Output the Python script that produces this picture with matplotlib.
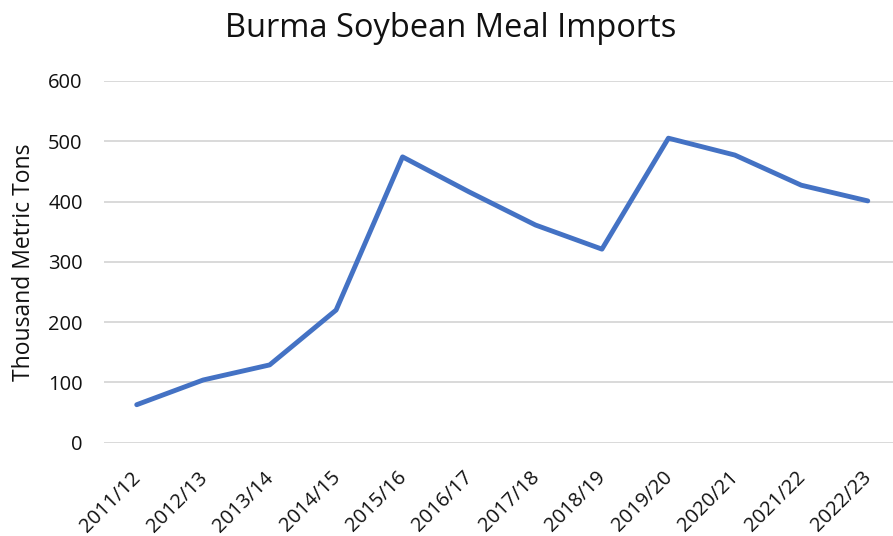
import matplotlib
matplotlib.use("Agg")
import matplotlib.pyplot as plt
import matplotlib.transforms as mtransforms

years = ["2011/12", "2012/13", "2013/14", "2014/15", "2015/16", "2016/17",
         "2017/18", "2018/19", "2019/20", "2020/21", "2021/22", "2022/23"]
imports = [63, 104, 129, 220, 474, 416, 361, 321, 505, 477, 427, 401]

plt.rcParams["font.family"] = ["Open Sans", "DejaVu Sans"]
TXT = "#111111"

fig = plt.figure(figsize=(8.93, 5.36), dpi=100)
W, H = 893, 536
left, right, top, bottom = 103.5, 901, 80.9, 442.7
ax = fig.add_axes([left / W, 1 - bottom / H, (right - left) / W, (bottom - top) / H])

x = list(range(len(years)))
ax.plot(x, imports, color="#4472C4", linewidth=3.5, solid_capstyle="round",
        solid_joinstyle="round", zorder=3)

ax.set_xlim(-0.5, len(years) - 0.5)
ax.set_ylim(0, 600)
ax.set_yticks(range(0, 601, 100))
ax.set_xticks(x)
ax.set_xticklabels(years, rotation=45, ha="right", rotation_mode="anchor")
ax.tick_params(axis="y", length=0, labelsize=14.5, colors=TXT, pad=15)
ax.tick_params(axis="x", length=0, labelsize=14.5, colors=TXT, pad=18)
shift = mtransforms.ScaledTranslation(-6 / 100, 0, fig.dpi_scale_trans)
for lbl in ax.get_xticklabels():
    lbl.set_transform(lbl.get_transform() + shift)
ax.grid(axis="y", color="#d9d9d9", linewidth=1.4)
ax.set_axisbelow(True)
for s in ax.spines.values():
    s.set_visible(False)

ax.set_ylabel("Thousand Metric Tons", fontsize=16.5, color=TXT)
ax.yaxis.set_label_coords((36 - left) / (right - left), 0.5)
fig.text(450.5 / W, 1 - 37 / H, "Burma Soybean Meal Imports", ha="center", va="baseline",
         fontsize=23.5, color=TXT)

fig.savefig("out.png", dpi=100)
